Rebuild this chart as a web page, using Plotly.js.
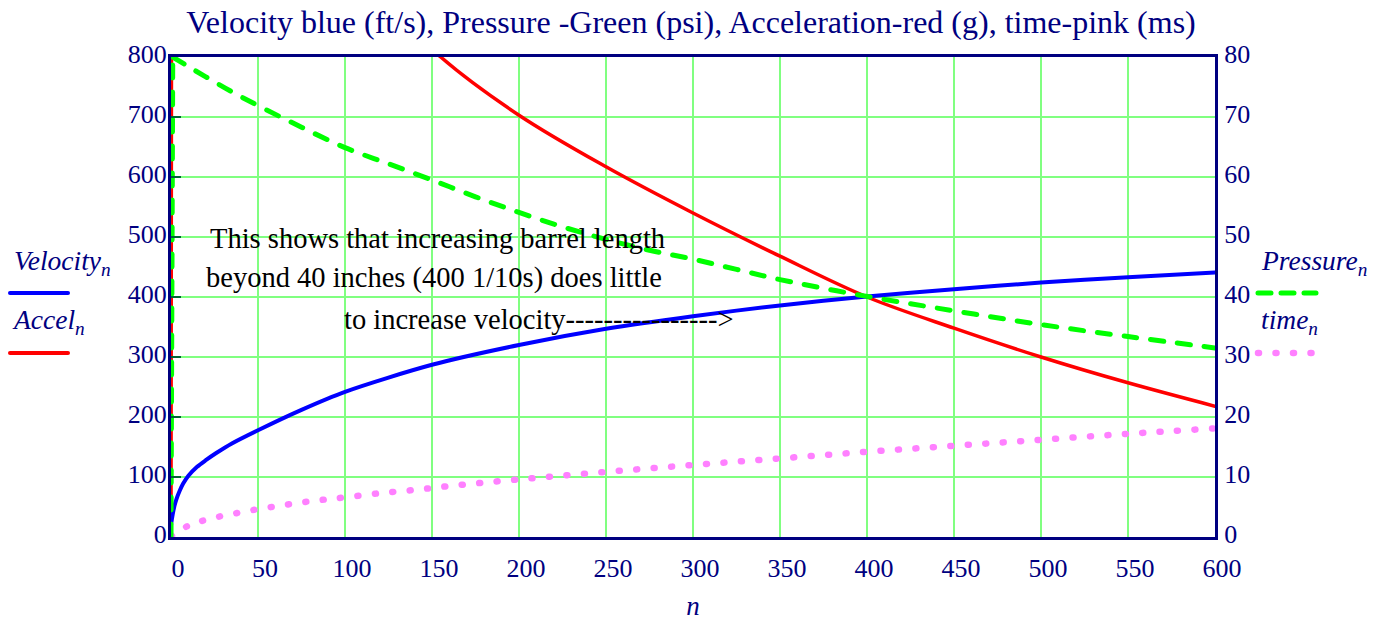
<!DOCTYPE html>
<html><head><meta charset="utf-8">
<script src="https://cdn.plot.ly/plotly-3.0.1.min.js"></script>
<style>body{margin:0;background:#fff}#chart{width:1389px;height:623px}</style>
</head><body><div id="chart"></div>
<script>
// ---- data ----
const velN     = [0,1,2,3,5,7,10,15,20,26,35,50,75,100,150,200,250,300,350,400,450,500,550,600];
const velocity = [20,38,52,62,77,89,102,117,128,140,156,178,212,242,287,320,347,368,386,401,413,424,433,441];

const accN  = [0,1,50,100,155,200,250,300,350,400,450,500,550,600];
const accel = [0,3000,1150,960,800,703,617,540,468,400,348,300,257,218];

const presN    = [0,1,10,20,35,50,75,100,125,150,175,200,225,250,275,300,325,350,400,450,500,550,600];
const pressure = [0,80,78.4,76.7,74.2,71.9,68.3,64.9,62.2,59.5,56.7,54.1,51.7,49.6,47.8,46.3,44.6,42.9,40.1,37.7,35.4,33.4,31.5];

const timeN = [0,10,20,30,40,50,60,70,80,90,100,120,140,160,200,250,300,350,400,450,500,550,600];
const time  = [0.1,1.9,2.85,3.55,4.1,4.65,5.1,5.55,5.95,6.3,6.6,7.3,7.85,8.5,9.6,10.85,12.0,13.1,14.2,15.2,16.2,17.2,18.1];

const xTicks  = [0,50,100,150,200,250,300,350,400,450,500,550,600];
const yTicks  = [0,100,200,300,400,500,600,700,800];
const y2Ticks = [0,10,20,30,40,50,60,70,80];

const titleText = 'Velocity blue (ft/s), Pressure -Green (psi), Acceleration-red (g), time-pink (ms)';
const noteLines = ['This shows that increasing barrel length',
                   'beyond 40 inches (400 1/10s) does little',
                   'to increase velocity----------------&gt;'];
const legendNames = ['Velocity','Accel','Pressure','time'];

// ---- styles ----
const NAVY = '#000080';
const SERIF = 'Liberation Serif, Times New Roman, serif';
const GRID = '#80FF80';
const RED = '#FF0000', BLUE = '#0000FF', PINK = '#FF80FF', GREEN = '#00FF00';

const redLine = {color: RED, width: 3.5};
const greenLine = {color: GREEN, width: 5, dash: '13px,14px'};

const traces = [
  // start-up jump at n = 0 (vertical), then the smooth curve
  {x: accN.slice(0, 2), y: accel.slice(0, 2), type:'scatter', mode:'lines', yaxis:'y', line: redLine},
  {x: accN.slice(1), y: accel.slice(1), type:'scatter', mode:'lines', yaxis:'y',
   line: Object.assign({shape:'spline', smoothing: 1}, redLine)},
  {x: velN, y: velocity, type:'scatter', mode:'lines', yaxis:'y',
   line:{color: BLUE, width: 4, shape:'spline', smoothing: 0.8}},
  {x: timeN, y: time, type:'scatter', mode:'lines', yaxis:'y2',
   line:{color: PINK, width: 6.5, dash:'1px,16.5px', shape:'spline', smoothing: 1}},
  {x: presN.slice(0, 2), y: pressure.slice(0, 2), type:'scatter', mode:'lines', yaxis:'y2', line: greenLine},
  {x: presN.slice(1), y: pressure.slice(1), type:'scatter', mode:'lines', yaxis:'y2',
   line: Object.assign({shape:'spline', smoothing: 1}, greenLine)}
];

const W = 1389, H = 623, L = 171, R = 1215, T = 57, B = 537;
const px = v => (v - L) / (R - L);
const py = v => (B - v) / (B - T);

const tickFont = {family: SERIF, size: 26, color: NAVY};
const annFont = {family: SERIF, size: 28.5, color: '#000000'};
const legFont = {family: SERIF, size: 27.5, color: NAVY};

const annotations = [
  {text: noteLines[0], x: px(208), y: py(238), xanchor:'left', yanchor:'middle'},
  {text: noteLines[1], x: px(204), y: py(278), xanchor:'left', yanchor:'middle'},
  {text: noteLines[2], x: px(342), y: py(319), xanchor:'left', yanchor:'middle'}
].map(a => Object.assign(a, {xref:'paper', yref:'paper', showarrow:false, font: annFont}));

const legendTexts = [
  {name: legendNames[0], x: px(12), y: py(262)},
  {name: legendNames[1], x: px(10), y: py(321)},
  {name: legendNames[2], x: px(1259), y: py(262)},
  {name: legendNames[3], x: px(1259), y: py(321)}
];
legendTexts.forEach(l => annotations.push({
  text: '<i>' + l.name + '<sub>n</sub></i>', x: l.x, y: l.y, xref:'paper', yref:'paper',
  xanchor:'left', yanchor:'middle', showarrow:false, font: legFont
}));

const shapes = [
  {type:'line', xref:'paper', yref:'paper', x0:px(10), x1:px(68), y0:py(293), y1:py(293),
   line:{color: BLUE, width:4}},
  {type:'line', xref:'paper', yref:'paper', x0:px(10), x1:px(68), y0:py(353), y1:py(353),
   line:{color: RED, width:4}},
  {type:'line', xref:'paper', yref:'paper', x0:px(1258), x1:px(1316), y0:py(293), y1:py(293),
   line:{color: GREEN, width:5, dash:'13px,10px'}},
  {type:'line', xref:'paper', yref:'paper', x0:px(1258), x1:px(1312), y0:py(353), y1:py(353),
   line:{color: PINK, width:6.5, dash:'1px,16.5px'}}
];

const layout = {
  width: W, height: H,
  margin: {l: L, r: W - R, t: T, b: H - B, pad: 0},
  paper_bgcolor: '#ffffff', plot_bgcolor: '#ffffff',
  showlegend: false,
  title: {text: titleText, font: {family: SERIF, size: 32, color: NAVY},
          x: 0.4975, xanchor: 'center', xref: 'container',
          y: 1 - 22 / H, yanchor: 'middle', yref: 'container'},
  xaxis: {range: [0, 600], tickvals: xTicks, ticktext: xTicks.map(String),
          showgrid: true, gridcolor: GRID, gridwidth: 2,
          showline: true, linecolor: NAVY, linewidth: 3, mirror: true,
          zeroline: false, ticks: '', tickfont: tickFont,
          ticklabelshift: 7, ticklabelstandoff: 6,
          title: {text: '<i>n</i>', font: {family: SERIF, size: 27, color: NAVY}, standoff: 14}},
  yaxis: {range: [0, 800], tickvals: yTicks, ticktext: yTicks.map(String),
          showgrid: true, gridcolor: GRID, gridwidth: 2,
          showline: true, linecolor: NAVY, linewidth: 3, mirror: true,
          zeroline: false, ticks: 'inside', ticklen: 10, tickwidth: 2.5, tickcolor: '#006633',
          tickfont: tickFont, ticklabelshift: -3, ticklabelstandoff: -4},
  yaxis2: {range: [0, 80], tickvals: y2Ticks, ticktext: y2Ticks.map(String),
           overlaying: 'y', side: 'right', showgrid: false,
           showline: true, linecolor: NAVY, linewidth: 3,
           zeroline: false, ticks: '', tickfont: tickFont, ticklabelshift: -3, ticklabelstandoff: 1},
  annotations: annotations,
  shapes: shapes
};

Plotly.newPlot('chart', traces, layout, {staticPlot: true, displayModeBar: false}).then(gd => {
  gd.querySelectorAll('path.js-line, .shapelayer path').forEach(p => {
    p.style.strokeLinecap = 'round';
  });
});
</script>
</body></html>
